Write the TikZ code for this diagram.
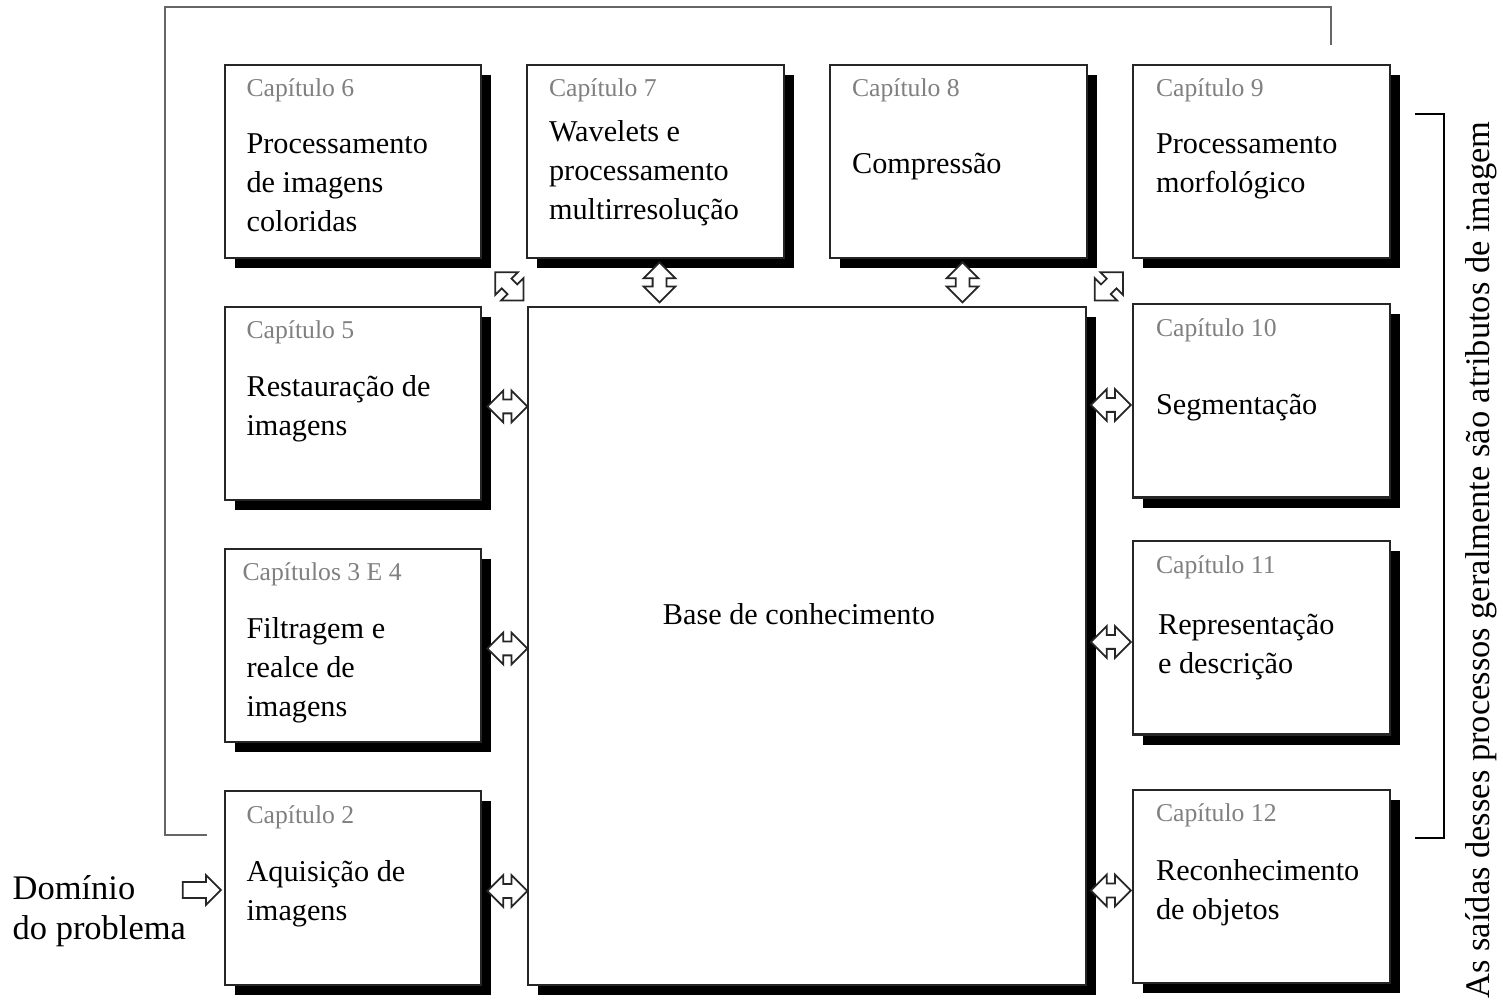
\documentclass[tikz,border=0pt]{standalone}
\usepackage{fontspec}
\setmainfont{Liberation Serif}
\usetikzlibrary{calc,shadows,shapes.arrows}

\tikzstyle{chap}=[draw=black!85,line width=0.6pt,fill=white,minimum width=2.56cm,minimum height=1.93cm,inner sep=0pt,drop shadow={shadow xshift=0.1cm,shadow yshift=-0.1cm,fill=black,opacity=1}]
\tikzstyle{tag}=[anchor=base west,inner sep=0pt,text=black!50,font=\fontsize{7.3}{9}\selectfont]
\tikzstyle{title}=[anchor=north west,inner sep=0pt,align=left,font=\fontsize{8.6}{11.1}\selectfont]
\tikzstyle{side}=[inner sep=0pt,align=left,font=\fontsize{9.8}{11.4}\selectfont]
\tikzstyle{darrow}=[double arrow,draw=black!85,fill=white,line width=0.5pt,inner sep=0.06cm,minimum height=0.40cm,double arrow head extend=0.09cm]
\tikzstyle{sarrow}=[single arrow,draw=black!85,fill=white,line width=0.5pt,inner sep=0.07cm,minimum height=0.38cm,single arrow head extend=0.07cm]
\tikzstyle{feedback}=[draw=black!60,line width=0.6pt]

\begin{document}
\begin{tikzpicture}[x=0.01cm,y=-0.01cm]
	\useasboundingbox (0,0) rectangle (1503,1004);
	% feedback line behind the boxes
	\coordinate (fbtop) at (1331,45);
	\coordinate (fbbot) at (207,835);
	\path[feedback] (fbbot) -- (165,835) -- (165,7) -- (1331,7) -- (fbtop);
	% the chapter boxes
	\node[chap] (c6) at (353,161.5) {};
	\node[chap] (c7) at (655.5,161.5) {};
	\node[chap] (c8) at (958.5,161.5) {};
	\node[chap] (c9) at (1261.5,161.5) {};
	\node[chap] (c5) at (353,403.5) {};
	\node[chap] (c34) at (353,645.5) {};
	\node[chap] (c2) at (353,888) {};
	\node[chap] (c10) at (1261.5,401) {};
	\node[chap] (c11) at (1261.5,638) {};
	\node[chap] (c12) at (1261.5,886.5) {};
	\node[chap,minimum width=5.58cm,minimum height=6.78cm] (base) at (807,646) {};
	% chapter numbers
	\node[tag] at ($(c6.north west)+(22,33)$) {Capítulo 6};
	\node[tag] at ($(c7.north west)+(22,33)$) {Capítulo 7};
	\node[tag] at ($(c8.north west)+(22,33)$) {Capítulo 8};
	\node[tag] at ($(c9.north west)+(23,33)$) {Capítulo 9};
	\node[tag] at ($(c5.north west)+(22,33)$) {Capítulo 5};
	\node[tag] at ($(c34.north west)+(18,33)$) {Capítulos 3 E 4};
	\node[tag] at ($(c2.north west)+(22,33)$) {Capítulo 2};
	\node[tag] at ($(c10.north west)+(23,33)$) {Capítulo 10};
	\node[tag] at ($(c11.north west)+(23,33)$) {Capítulo 11};
	\node[tag] at ($(c12.north west)+(23,33)$) {Capítulo 12};
	% chapter titles
	\node[title] at ($(c6.north west)+(22,62)$) {\strut Processamento\\de imagens\\coloridas};
	\node[title] at ($(c7.north west)+(22,50)$) {\strut Wavelets e\\processamento\\multirresolução};
	\node[title] at ($(c8.north west)+(22,82)$) {\strut Compressão};
	\node[title] at ($(c9.north west)+(23,62)$) {\strut Processamento\\morfológico};
	\node[title] at ($(c5.north west)+(22,63)$) {\strut Restauração de\\imagens};
	\node[title] at ($(c34.north west)+(22,63)$) {\strut Filtragem e\\realce de\\imagens};
	\node[title] at ($(c2.north west)+(22,63)$) {\strut Aquisição de\\imagens};
	\node[title] at ($(c10.north west)+(23,83)$) {\strut Segmentação};
	\node[title] at ($(c11.north west)+(25,66)$) {\strut Representação\\e descrição};
	\node[title] at ($(c12.north west)+(23,64)$) {\strut Reconhecimento\\de objetos};
	\node[font=\fontsize{8.6}{11.1}\selectfont] at ($(base.center)+(-8,-32)$) {Base de conhecimento};
	% arrows to and from the knowledge base
	\foreach \src in {c5,c34,c2}
		\node[darrow] at ($(\src.east)!0.5!(base.west |- \src.east)+(3,3)$) {};
	\foreach \dst in {c10,c11,c12}
		\node[darrow] at ($(base.east |- \dst.west)!0.5!(\dst.west)+(1,4)$) {};
	\foreach \src in {c7,c8}
		\node[darrow,rotate=90] at ($(\src.south)!0.5!(\src.south |- base.north)+(4,0)$) {};
	\node[darrow,rotate=-45] at ($(c6.south east)!0.5!(base.north west)+(5,4)$) {};
	\node[darrow,rotate=45] at ($(c9.south west)!0.5!(base.north east)+(-1,4)$) {};
	% problem domain and the bracket on the right
	\node[side,anchor=west] (dom) at (12,911) {Domínio\\do problema};
	\node[sarrow] (inarrow) at ($(c2.west)+(-26,2)$) {};
	\draw[line width=0.6pt] (1415,114) -- (1444,114) -- (1444,838) -- (1415,838);
	\node[side,rotate=90] (outs) at (1481,560) {As saídas desses processos geralmente são atributos de imagem};
\end{tikzpicture}
\end{document}
